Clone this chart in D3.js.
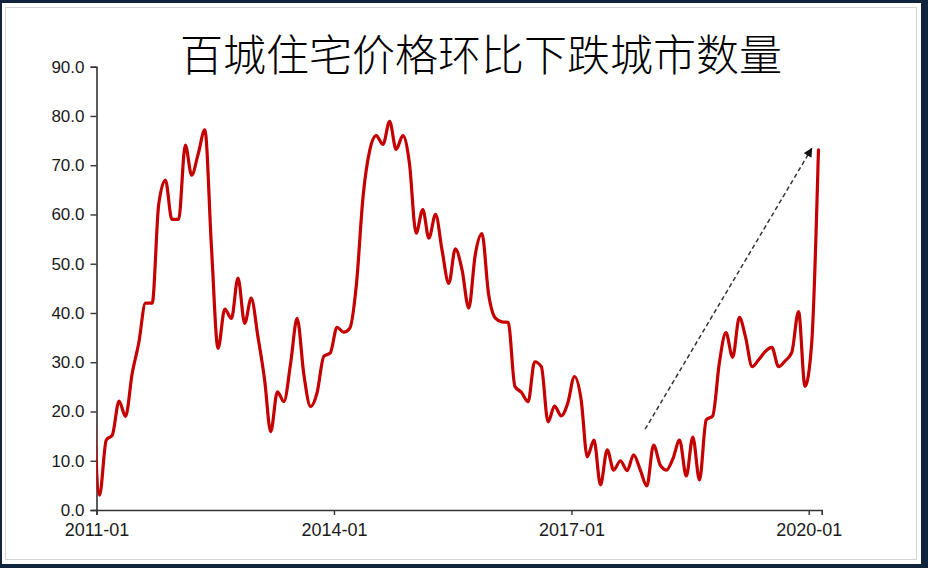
<!DOCTYPE html>
<html>
<head>
<meta charset="utf-8">
<script src="https://cdn.jsdelivr.net/npm/d3@7/dist/d3.min.js"></script>
<style>
  body { margin: 0; padding: 0; background: #10243e; }
  svg { display: block; }
</style>
</head>
<body>
<svg id="chart" width="928" height="568"></svg>
<script>
// ---- data ----
const title = "百城住宅价格环比下跌城市数量";
const firstMonth = "2010-12"; // first (clipped) point, one value per month after it
const values = [
  28.0,
  3.0, 14.2, 15.2, 22.1, 19.0, 27.8, 33.9, 42.0, 42.0, 62.0, 67.0, 59.0,
  59.0, 74.1, 68.0, 72.4, 77.2, 53.0, 32.8, 40.8, 38.9, 47.1, 37.9, 43.0,
  35.2, 26.4, 15.9, 24.0, 22.0, 29.8, 38.9, 27.5, 21.0, 23.8, 31.2, 31.9,
  37.1, 36.1, 36.9, 46.0, 63.5, 73.0, 76.0, 74.2, 78.9, 73.2, 76.0, 70.5,
  56.2, 61.0, 55.2, 60.0, 52.7, 46.0, 53.0, 48.8, 41.0, 51.8, 56.1, 44.0,
  39.0, 38.2, 38.1, 25.1, 23.9, 22.0, 30.1, 29.1, 17.9, 21.1, 19.1, 21.7,
  27.1, 22.3, 10.8, 14.2, 5.1, 12.2, 8.1, 10.0, 8.0, 11.2, 8.1, 4.9,
  13.2, 9.1, 8.1, 10.5, 14.2, 6.9, 14.8, 6.1, 18.3, 19.1, 30.0, 36.0,
  31.0, 39.1, 35.2, 29.1, 30.5, 32.2, 33.0, 29.1, 30.3, 32.0, 40.3, 25.1,
  34.0, 73.1
];
const xTickLabels = ["2011-01", "2014-01", "2017-01", "2020-01"];
const xDomain = ["2011-01-01", "2020-03-01"];
const yTicks = [0, 10, 20, 30, 40, 50, 60, 70, 80, 90];
const arrowFrom = { date: "2017-12-07", value: 16.4 };
const arrowTo = { date: "2020-01-15", value: 73.4 };

// ---- build ----
const parseDay = d3.timeParse("%Y-%m-%d");
const parseMonth = d3.timeParse("%Y-%m");
const start = parseMonth(firstMonth);
const series = values.map((v, i) => {
  const m = d3.timeMonth.offset(start, i);
  return { date: new Date(m.getFullYear(), m.getMonth(), 15), value: v };
});

const svg = d3.select("#chart");
const W = 928, H = 568;

// frame
svg.append("rect").attr("x", 0).attr("y", 0).attr("width", W).attr("height", H).attr("fill", "#10243e");
svg.append("rect").attr("x", 2).attr("y", 3).attr("width", 919).attr("height", 561).attr("fill", "#ffffff");
svg.append("rect").attr("x", 5.5).attr("y", 7.5).attr("width", 911).attr("height", 552)
  .attr("fill", "none").attr("stroke", "#d4d4d4").attr("stroke-width", 1);

const x = d3.scaleTime().domain(xDomain.map(parseDay)).range([96.5, 821.7]);
const y = d3.scaleLinear().domain([0, 90]).range([510, 66.7]);

// clip
svg.append("defs").append("clipPath").attr("id", "plotclip")
  .append("rect").attr("x", x.range()[0]).attr("y", 0)
  .attr("width", x.range()[1] - x.range()[0] + 10).attr("height", 515);

// marker
svg.select("defs").append("marker")
  .attr("id", "arrowhead").attr("viewBox", "0 0 10 10")
  .attr("refX", 9).attr("refY", 5)
  .attr("markerWidth", 11).attr("markerHeight", 9)
  .attr("markerUnits", "userSpaceOnUse")
  .attr("orient", "auto")
  .append("path").attr("d", "M0,0 L10,5 L0,10 Z").attr("fill", "#111");

// title
svg.append("text")
  .attr("x", 481).attr("y", 71)
  .attr("text-anchor", "middle")
  .attr("font-family", "'Noto Sans CJK SC', sans-serif")
  .attr("font-size", 43)
  .attr("font-weight", 300)
  .attr("fill", "#000")
  .text(title);

// axes
const yAxis = d3.axisLeft(y).tickValues(yTicks).tickFormat(d3.format(".1f"))
  .tickSizeOuter(0).tickSize(6).tickPadding(6);
const gy = svg.append("g").attr("transform", `translate(${x.range()[0]},0)`).call(yAxis);

const xAxis = d3.axisBottom(x)
  .tickValues(xTickLabels.map(parseMonth))
  .tickFormat(d3.timeFormat("%Y-%m"))
  .tickSizeOuter(0).tickSize(5).tickPadding(8);
const gx = svg.append("g").attr("transform", `translate(0,${y(0)})`).call(xAxis);

[gx, gy].forEach(g => {
  g.select(".domain").attr("stroke", "#333").attr("stroke-width", 1.6);
  g.selectAll(".tick line").attr("stroke", "#333").attr("stroke-width", 1.4);
  g.selectAll(".tick text")
    .attr("fill", "#1a1a1a")
    .attr("font-family", "'Liberation Sans', Arial, sans-serif");
});
gy.selectAll(".tick text").attr("font-size", 17);
gx.selectAll(".tick text").attr("font-size", 18);

// line
const line = d3.line()
  .x(d => x(d.date))
  .y(d => y(d.value))
  .curve(d3.curveMonotoneX);

svg.append("path")
  .datum(series)
  .attr("clip-path", "url(#plotclip)")
  .attr("fill", "none")
  .attr("stroke", "#c40000")
  .attr("stroke-width", 3.2)
  .attr("stroke-linejoin", "round")
  .attr("stroke-linecap", "round")
  .attr("d", line);

// annotation arrow
svg.append("line")
  .attr("x1", x(parseDay(arrowFrom.date))).attr("y1", y(arrowFrom.value))
  .attr("x2", x(parseDay(arrowTo.date))).attr("y2", y(arrowTo.value))
  .attr("stroke", "#333")
  .attr("stroke-width", 1.5)
  .attr("stroke-dasharray", "4.5,3")
  .attr("marker-end", "url(#arrowhead)");
</script>
</body>
</html>
